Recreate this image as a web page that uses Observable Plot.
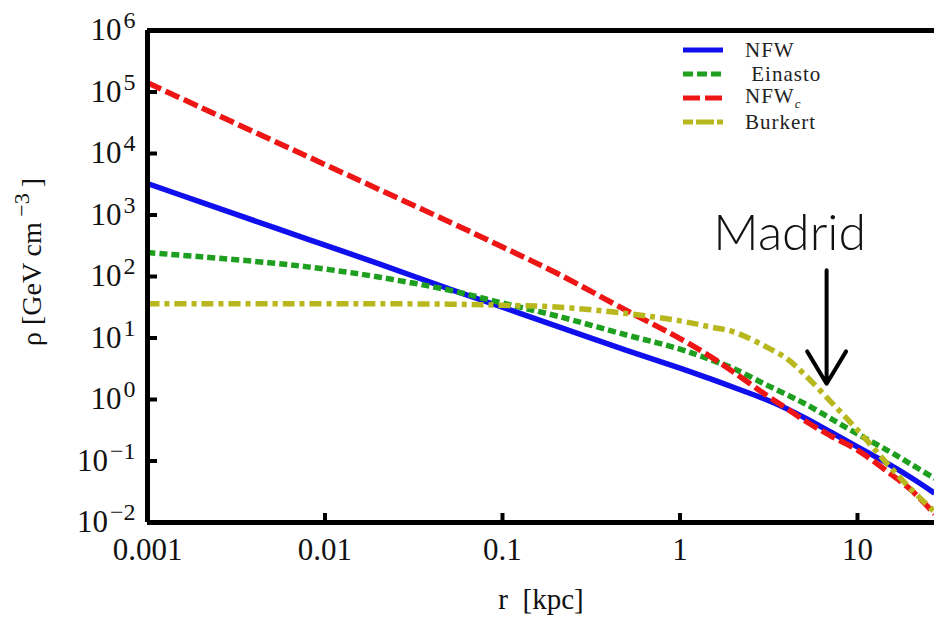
<!DOCTYPE html>
<html>
<head>
<meta charset="utf-8">
<script src="https://cdn.jsdelivr.net/npm/d3@7"></script>
<script src="https://cdn.jsdelivr.net/npm/@observablehq/plot@0.6"></script>
<style>
html, body { margin: 0; padding: 0; background: #fff; }
#wrap { position: relative; width: 934px; height: 623px; overflow: hidden; }
#legend { position: absolute; left: 683px; top: 38px; font-family: "Liberation Serif", "DejaVu Serif", serif; font-size: 21px; color: #222; letter-spacing: 1px; }
#legend .row { height: 24px; display: flex; align-items: center; }
#legend svg { width: 40px; height: 10px; margin-right: 22px; flex: none; }
</style>
</head>
<body>
<div id="wrap"><div id="legend"></div></div>
<script>
// radius r [kpc]
const r = [0.001, 0.002, 0.005, 0.01, 0.02, 0.05, 0.1, 0.2, 0.5, 1, 1.5, 2, 3, 4, 5, 7, 10, 15, 20, 27.2];
// density rho [GeV cm^-3]
const nfw     = [3240, 1620, 646, 324, 162, 63, 31.6, 15.8, 6.3, 3.24, 2.14, 1.58, 1.02, 0.71, 0.51, 0.30, 0.17, 0.089, 0.054, 0.030];
const einasto = [245, 209, 166, 132, 98, 60, 37, 23, 11.2, 6.6, 4.4, 3.2, 1.78, 1.2, 0.87, 0.50, 0.275, 0.145, 0.089, 0.052];
const nfwc    = [141000, 56000, 16600, 6600, 2630, 776, 302, 115, 28, 9.8, 4.9, 2.8, 1.23, 0.71, 0.46, 0.26, 0.15, 0.065, 0.034, 0.0138];
const burkert = [36, 36, 36, 36, 36, 35.5, 34, 32, 25, 19, 15, 12.6, 7.4, 4.6, 2.6, 0.95, 0.32, 0.085, 0.035, 0.015];

const seriesNames  = ["NFW", "Einasto", "NFWc", "Burkert"];
const seriesValues = [nfw, einasto, nfwc, burkert];
const seriesColors = ["#1010ee", "#1f9f1f", "#ee1515", "#b8b81e"];
const seriesDash   = [null, "8,4", "15,5", "12,5,5,5"];
const legendDash   = [null, "10,4", "17,5", "10,3,18,3"];

const xDomain = [0.001, 27.16];
const yDomain = [1e-2, 1e6];
const xTicks = [0.001, 0.01, 0.1, 1, 10];
const xTickLabels = ["0.001", "0.01", "0.1", "1", "10"];
const yTicks = [1e-2, 1e-1, 1e0, 1e1, 1e2, 1e3, 1e4, 1e5, 1e6];
const yExponents = ["\u22122", "\u22121", "0", "1", "2", "3", "4", "5", "6"];

const annotationText = ["Madrid"];
const annotationTextX = [4.15];
const annotationTextY = [500];
const arrowX = [6.7];
const arrowYFrom = [126];
const arrowYTo = [1.8];

const W = 934, H = 623;
const mL = 147, mR = 0, mT = 30, mB = 101;
const frameW = W - mL - mR, frameH = H - mT - mB;
const serif = "'Liberation Serif', 'DejaVu Serif', serif";

const lineMarks = seriesValues.map((vals, i) =>
  Plot.line(r.map((x, j) => ({r: x, rho: vals[j]})), {
    x: "r", y: "rho", stroke: seriesColors[i], strokeWidth: 5.5,
    strokeDasharray: seriesDash[i], strokeLinecap: "butt", strokeLinejoin: "miter",
    curve: "catmull-rom", clip: true
  })
);

const svg = Plot.plot({
  width: W, height: H,
  marginLeft: mL, marginRight: mR, marginTop: mT, marginBottom: mB,
  style: {fontFamily: serif, background: "white", color: "black", overflow: "visible"},
  x: {type: "log", domain: xDomain},
  y: {type: "log", domain: yDomain},
  marks: [
    ...lineMarks,
    Plot.tickX(xTicks, {x: (d) => d, insetTop: frameH - 9, stroke: "black", strokeWidth: 4}),
    Plot.tickY(yTicks.slice(1, -1), {y: (d) => d, insetRight: frameW - 10, stroke: "black", strokeWidth: 4}),
    Plot.axisX({ticks: xTicks, tickSize: 0, tickPadding: 15, fontSize: 31, fill: "#111",
      tickFormat: (d) => xTickLabels[xTicks.indexOf(d)], label: null}),
    Plot.axisY({ticks: yTicks, tickSize: 0, tickPadding: 12, fontSize: 31, fill: "#111",
      tickFormat: (d) => "10^" + yExponents[yTicks.indexOf(d)], label: null}),
    Plot.ruleX([xDomain[0]], {stroke: "black", strokeWidth: 5}),
    Plot.ruleY([yDomain[0]], {stroke: "black", strokeWidth: 5}),
    Plot.ruleY([yDomain[1]], {stroke: "black", strokeWidth: 5}),
    Plot.text(["r  [kpc]"], {frameAnchor: "bottom", dy: 86, fontSize: 29, fill: "#111", fontFamily: serif}),
    Plot.arrow(arrowX.map((x, i) => ({x, y1: arrowYFrom[i], y2: arrowYTo[i]})), {
      x1: "x", x2: "x", y1: "y1", y2: "y2", stroke: "black", strokeWidth: 4, headLength: 22, headAngle: 62
    }),
    Plot.text(annotationText.map((t, i) => ({t, x: annotationTextX[i], y: annotationTextY[i]})), {
      x: "x", y: "y", text: "t", fontSize: 50, fontWeight: 300, fontFamily: "Lato, 'Open Sans', sans-serif", fill: "#111"
    })
  ]
});

// superscript exponents on the y tick labels
svg.querySelectorAll('[aria-label="y-axis tick label"] text').forEach((t) => {
  const s = t.textContent;
  if (!s.includes("^")) return;
  const [base, exp] = s.split("^");
  t.textContent = "";
  const ns = "http://www.w3.org/2000/svg";
  const b = document.createElementNS(ns, "tspan"); b.textContent = base;
  const e = document.createElementNS(ns, "tspan"); e.textContent = exp;
  e.setAttribute("dy", "-12"); e.setAttribute("font-size", "24");
  e.setAttribute("dx", "2");
  t.appendChild(b); t.appendChild(e);
});

// y axis title
{
  const ns = "http://www.w3.org/2000/svg";
  const t = document.createElementNS(ns, "text");
  t.setAttribute("transform", "translate(41,262) rotate(-90)");
  t.setAttribute("text-anchor", "middle");
  t.setAttribute("font-size", "28");
  t.setAttribute("fill", "#111");
  t.setAttribute("font-family", serif);
  const a = document.createElementNS(ns, "tspan"); a.textContent = "\u03C1 [GeV cm";
  const b = document.createElementNS(ns, "tspan"); b.textContent = " \u22123"; b.setAttribute("dy", "-12"); b.setAttribute("font-size", "22");
  const c = document.createElementNS(ns, "tspan"); c.textContent = "]"; c.setAttribute("dy", "12"); c.setAttribute("dx", "6");
  t.appendChild(a); t.appendChild(b); t.appendChild(c);
  svg.appendChild(t);
}

document.getElementById("wrap").prepend(svg);

// legend
const legend = document.getElementById("legend");
seriesNames.forEach((name, i) => {
  const row = document.createElement("div");
  row.className = "row";
  const dash = legendDash[i] ? `stroke-dasharray="${legendDash[i]}"` : "";
  row.innerHTML = `<svg viewBox="0 0 40 10"><line x1="0" x2="40" y1="5" y2="5" stroke="${seriesColors[i]}" stroke-width="5" ${dash}/></svg>`;
  const label = document.createElement("span");
  if (name === "NFWc") {
    label.innerHTML = 'NFW<sub style="font-style:italic;font-size:13px">c</sub>';
  } else if (name === "Einasto") {
    label.innerHTML = '&nbsp;Einasto';
  } else {
    label.textContent = name;
  }
  row.appendChild(label);
  legend.appendChild(row);
});
</script>
</body>
</html>
